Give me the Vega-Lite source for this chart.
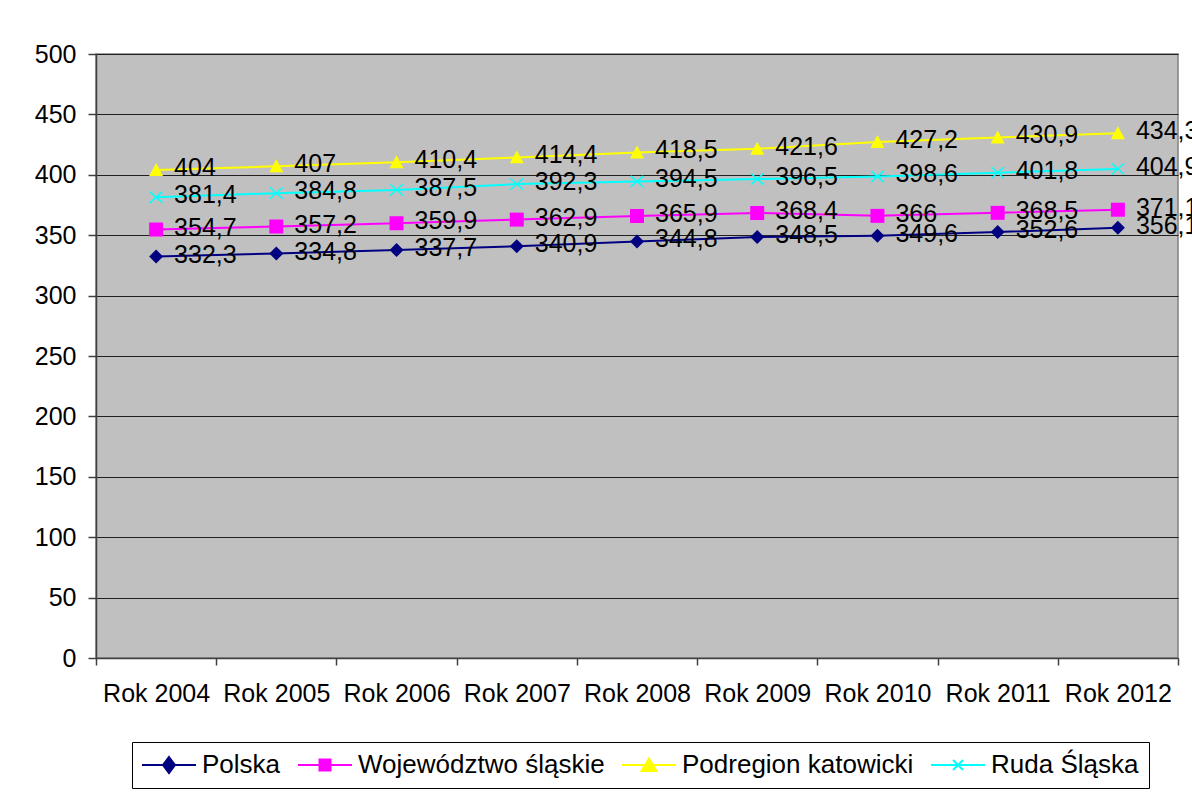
{
  "$schema": "https://vega.github.io/schema/vega-lite/v6.json",
  "width": 1082,
  "height": 604,
  "autosize": "none",
  "padding": {"left": 96, "top": 54, "right": 14, "bottom": 134},
  "background": "white",
  "config": {
    "locale": {"number": {"decimal": ",", "thousands": " ", "grouping": [3], "currency": ["", " zł"]}},
    "font": "Liberation Sans",
    "view": {"fill": "#C0C0C0", "stroke": "#808080", "strokeWidth": 1.5},
    "legend": {
      "orient": "none", "legendX": 36, "legendY": 688, "direction": "horizontal",
      "strokeColor": "black", "fillColor": "white", "padding": 10, "columnPadding": 13,
      "labelFontSize": 26, "labelFont": "Liberation Sans", "labelColor": "black", "labelOffset": 20, "labelLimit": 400,
      "symbolSize": 400, "symbolStrokeWidth": 2, "symbolOffset": 14, "symbolOpacity": 1
    }
  },
  "data": {
    "values": [
      {"rok": "Rok 2004", "seria": "Polska", "wartosc": 332.3},
      {"rok": "Rok 2005", "seria": "Polska", "wartosc": 334.8},
      {"rok": "Rok 2006", "seria": "Polska", "wartosc": 337.7},
      {"rok": "Rok 2007", "seria": "Polska", "wartosc": 340.9},
      {"rok": "Rok 2008", "seria": "Polska", "wartosc": 344.8},
      {"rok": "Rok 2009", "seria": "Polska", "wartosc": 348.5},
      {"rok": "Rok 2010", "seria": "Polska", "wartosc": 349.6},
      {"rok": "Rok 2011", "seria": "Polska", "wartosc": 352.6},
      {"rok": "Rok 2012", "seria": "Polska", "wartosc": 356.1},
      {"rok": "Rok 2004", "seria": "Województwo śląskie", "wartosc": 354.7},
      {"rok": "Rok 2005", "seria": "Województwo śląskie", "wartosc": 357.2},
      {"rok": "Rok 2006", "seria": "Województwo śląskie", "wartosc": 359.9},
      {"rok": "Rok 2007", "seria": "Województwo śląskie", "wartosc": 362.9},
      {"rok": "Rok 2008", "seria": "Województwo śląskie", "wartosc": 365.9},
      {"rok": "Rok 2009", "seria": "Województwo śląskie", "wartosc": 368.4},
      {"rok": "Rok 2010", "seria": "Województwo śląskie", "wartosc": 366},
      {"rok": "Rok 2011", "seria": "Województwo śląskie", "wartosc": 368.5},
      {"rok": "Rok 2012", "seria": "Województwo śląskie", "wartosc": 371.1},
      {"rok": "Rok 2004", "seria": "Podregion katowicki", "wartosc": 404},
      {"rok": "Rok 2005", "seria": "Podregion katowicki", "wartosc": 407},
      {"rok": "Rok 2006", "seria": "Podregion katowicki", "wartosc": 410.4},
      {"rok": "Rok 2007", "seria": "Podregion katowicki", "wartosc": 414.4},
      {"rok": "Rok 2008", "seria": "Podregion katowicki", "wartosc": 418.5},
      {"rok": "Rok 2009", "seria": "Podregion katowicki", "wartosc": 421.6},
      {"rok": "Rok 2010", "seria": "Podregion katowicki", "wartosc": 427.2},
      {"rok": "Rok 2011", "seria": "Podregion katowicki", "wartosc": 430.9},
      {"rok": "Rok 2012", "seria": "Podregion katowicki", "wartosc": 434.3},
      {"rok": "Rok 2004", "seria": "Ruda Śląska", "wartosc": 381.4},
      {"rok": "Rok 2005", "seria": "Ruda Śląska", "wartosc": 384.8},
      {"rok": "Rok 2006", "seria": "Ruda Śląska", "wartosc": 387.5},
      {"rok": "Rok 2007", "seria": "Ruda Śląska", "wartosc": 392.3},
      {"rok": "Rok 2008", "seria": "Ruda Śląska", "wartosc": 394.5},
      {"rok": "Rok 2009", "seria": "Ruda Śląska", "wartosc": 396.5},
      {"rok": "Rok 2010", "seria": "Ruda Śląska", "wartosc": 398.6},
      {"rok": "Rok 2011", "seria": "Ruda Śląska", "wartosc": 401.8},
      {"rok": "Rok 2012", "seria": "Ruda Śląska", "wartosc": 404.9}
    ]
  },
  "encoding": {
    "x": {
      "field": "rok", "type": "nominal", "sort": null,
      "scale": {"type": "band", "paddingInner": 0, "paddingOuter": 0},
      "axis": {"title": null, "tickBand": "extent", "domainColor": "#404040", "domainWidth": 1.5, "tickColor": "#404040", "tickSize": 7, "tickWidth": 1.5, "labelFontSize": 25, "labelFont": "Liberation Sans", "labelColor": "black", "labelPadding": 16, "labelAngle": 0, "grid": false}
    },
    "y": {
      "field": "wartosc", "type": "quantitative",
      "scale": {"domain": [0, 500], "nice": false, "zero": true},
      "axis": {"title": null, "values": [0, 50, 100, 150, 200, 250, 300, 350, 400, 450, 500], "format": "d", "grid": true, "gridColor": "#202020", "gridWidth": 1, "domainColor": "#404040", "domainWidth": 1.5, "tickColor": "#404040", "tickWidth": 1.5, "tickSize": 8, "labelFontSize": 25, "labelFont": "Liberation Sans", "labelColor": "black", "labelPadding": 12}
    }
  },
  "layer": [
    {
      "mark": {"type": "line", "strokeWidth": 2},
      "encoding": {
        "color": {
          "field": "seria", "type": "nominal",
          "scale": {"domain": ["Polska", "Województwo śląskie", "Podregion katowicki", "Ruda Śląska"], "range": ["#000080", "#FF00FF", "#FFFF00", "#00FFFF"]},
          "legend": {"title": null}
        }
      }
    },
    {
      "mark": {"type": "point", "filled": true, "size": 0, "strokeWidth": 2, "opacity": 1, "fillOpacity": 1, "strokeOpacity": 1},
      "encoding": {
        "fill": {
          "field": "seria", "type": "nominal",
          "scale": {"domain": ["Polska", "Województwo śląskie", "Podregion katowicki", "Ruda Śląska"], "range": ["#000080", "#FF00FF", "#FFFF00", "#00FFFF"]},
          "legend": {"title": null}
        },
        "stroke": {
          "field": "seria", "type": "nominal",
          "scale": {"domain": ["Polska", "Województwo śląskie", "Podregion katowicki", "Ruda Śląska"], "range": ["#000080", "#FF00FF", "#FFFF00", "#00FFFF"]},
          "legend": {"title": null}
        },
        "shape": {
          "field": "seria", "type": "nominal",
          "scale": {"domain": ["Polska", "Województwo śląskie", "Podregion katowicki", "Ruda Śląska"], "range": ["M-2.7,0H2.7M0,-0.8L0.6,0L0,0.8L-0.6,0Z", "M-2.7,0H2.7M-0.55,-0.55H0.55V0.55H-0.55Z", "M-2.7,0H2.7M0,-0.65L0.75,0.6L-0.75,0.6Z", "M-2.7,0H2.7M-0.5,-0.5L0.5,0.5M-0.5,0.5L0.5,-0.5"]},
          "legend": {"title": null}
        }
      }
    },
    {
      "transform": [{"filter": {"field": "seria", "equal": "Polska"}}],
      "mark": {"type": "point", "shape": "M0,-1L1,0L0,1L-1,0Z", "filled": true, "size": 196, "color": "#000080", "opacity": 1}
    },
    {
      "transform": [{"filter": {"field": "seria", "equal": "Województwo śląskie"}}],
      "mark": {"type": "point", "shape": "M-1,-1H1V1H-1Z", "filled": true, "size": 196, "color": "#FF00FF", "opacity": 1}
    },
    {
      "transform": [{"filter": {"field": "seria", "equal": "Podregion katowicki"}}],
      "mark": {"type": "point", "shape": "M0,-1L1,0.85L-1,0.85Z", "filled": true, "size": 196, "color": "#FFFF00", "opacity": 1}
    },
    {
      "transform": [{"filter": {"field": "seria", "equal": "Ruda Śląska"}}],
      "mark": {"type": "point", "shape": "M-0.9,-0.8L0.9,0.8M-0.9,0.8L0.9,-0.8", "filled": false, "size": 196, "color": "#00FFFF", "strokeWidth": 1.5, "opacity": 1}
    },
    {
      "mark": {"type": "text", "align": "left", "baseline": "middle", "dx": 18, "dy": -2, "fontSize": 25, "font": "Liberation Sans", "color": "black"},
      "encoding": {
        "text": {"field": "wartosc", "type": "quantitative", "format": ".1~f"}
      }
    }
  ]
}
